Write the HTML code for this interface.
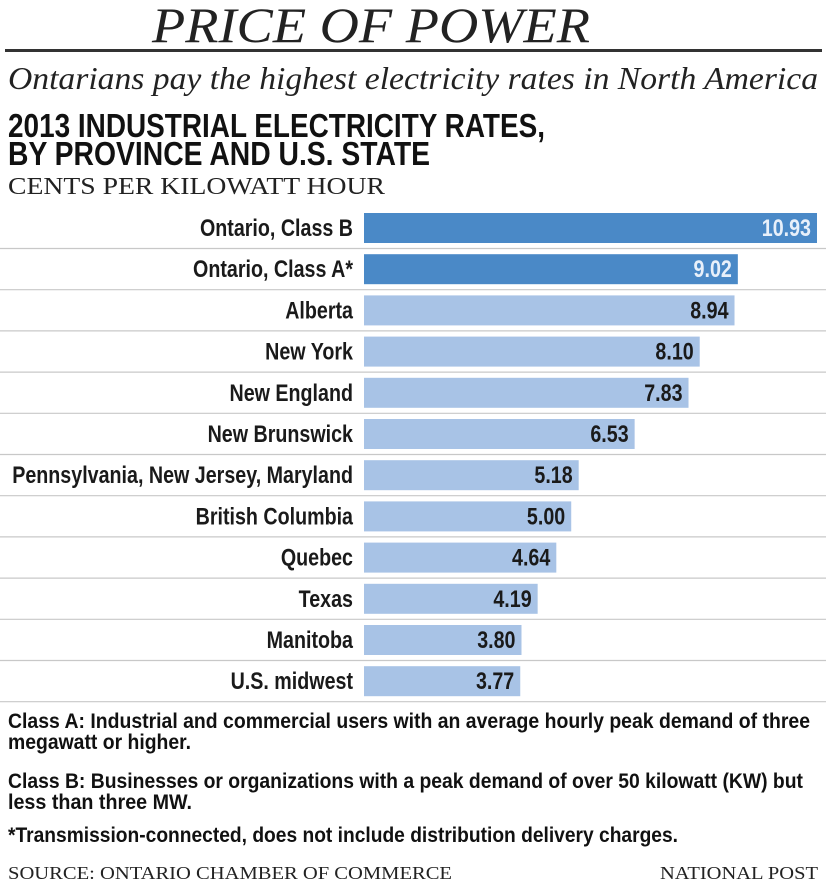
<!DOCTYPE html>
<html><head><meta charset="utf-8"><style>
html,body{margin:0;padding:0;background:#fff;}
svg{display:block;}
.lbl{font-family:"Liberation Sans Narrow","Liberation Sans",sans-serif;font-weight:bold;font-size:24px;fill:#1a1a1a;}
.val{font-family:"Liberation Sans Narrow","Liberation Sans",sans-serif;font-weight:bold;font-size:24px;}
.note{font-family:"Liberation Sans Narrow","Liberation Sans",sans-serif;font-weight:bold;font-size:21px;fill:#111;}
.serif{font-family:"Liberation Serif",serif;fill:#222;}
</style></head><body>
<svg id="chart" width="826" height="888" viewBox="0 0 826 888">
<text class="serif" x="152" y="42" font-size="50" font-style="italic" textLength="438" lengthAdjust="spacingAndGlyphs" fill="#111">PRICE OF POWER</text>
<rect x="5" y="49" width="817" height="3" fill="#333"/>
<text class="serif" x="8" y="89" font-size="32" font-style="italic" textLength="810" lengthAdjust="spacingAndGlyphs">Ontarians pay the highest electricity rates in North America</text>
<text x="8" y="137" font-family="'Liberation Sans Narrow','Liberation Sans',sans-serif" font-weight="bold" font-size="33" textLength="537" lengthAdjust="spacingAndGlyphs" fill="#111">2013 INDUSTRIAL ELECTRICITY RATES,</text>
<text x="8" y="165" font-family="'Liberation Sans Narrow','Liberation Sans',sans-serif" font-weight="bold" font-size="33" textLength="422" lengthAdjust="spacingAndGlyphs" fill="#111">BY PROVINCE AND U.S. STATE</text>
<text class="serif" x="8" y="194" font-size="24" textLength="377" lengthAdjust="spacingAndGlyphs">CENTS PER KILOWATT HOUR</text>
<g id="bars"></g>
<text class="note" x="8" y="728" textLength="802" lengthAdjust="spacingAndGlyphs">Class A: Industrial and commercial users with an average hourly peak demand of three</text>
<text class="note" x="8" y="749" textLength="183" lengthAdjust="spacingAndGlyphs">megawatt or higher.</text>
<text class="note" x="8" y="788" textLength="795" lengthAdjust="spacingAndGlyphs">Class B: Businesses or organizations with a peak demand of over 50 kilowatt (KW) but</text>
<text class="note" x="8" y="809" textLength="184" lengthAdjust="spacingAndGlyphs">less than three MW.</text>
<text class="note" x="8" y="842" textLength="670" lengthAdjust="spacingAndGlyphs">*Transmission-connected, does not include distribution delivery charges.</text>
<text class="serif" x="8" y="879" font-size="18" textLength="444" lengthAdjust="spacingAndGlyphs">SOURCE: ONTARIO CHAMBER OF COMMERCE</text>
<text class="serif" x="660" y="879" font-size="18" textLength="158" lengthAdjust="spacingAndGlyphs">NATIONAL POST</text>
</svg>
<script>
const categories = ["Ontario, Class B","Ontario, Class A*","Alberta","New York","New England","New Brunswick","Pennsylvania, New Jersey, Maryland","British Columbia","Quebec","Texas","Manitoba","U.S. midwest"];
const values = [10.93, 9.02, 8.94, 8.10, 7.83, 6.53, 5.18, 5.00, 4.64, 4.19, 3.80, 3.77];
const highlighted = [true, true, false, false, false, false, false, false, false, false, false, false];

const NS = "http://www.w3.org/2000/svg";
const g = document.getElementById("bars");
const x0 = 364, pxPerUnit = 453 / 10.93;
const xScale = v => x0 + v * pxPerUnit;
const yCenter = i => 228 + i * 41.2;
function mk(tag, attrs) { const e = document.createElementNS(NS, tag); for (const k in attrs) e.setAttribute(k, attrs[k]); g.appendChild(e); return e; }
categories.forEach((c, i) => {
  const cy = yCenter(i);
  const sep = mk("line", {x1: 0, x2: 826, y1: cy + 20.5, y2: cy + 20.5, stroke: "#c8c8c8", "stroke-width": 1.2});
  
  
  const lbl = mk("text", {x: 0, y: 0, "text-anchor": "end", class: "lbl", transform: "translate(353," + (cy + 8) + ") scale(0.82,1)"});
  lbl.textContent = c;
  
  
  const bar = mk("rect", {x: x0, y: cy - 15, width: xScale(values[i]) - x0, height: 30, fill: highlighted[i] ? "#4a89c7" : "#a8c3e6"});
  
  
  const v = mk("text", {x: 0, y: 0, "text-anchor": "end", class: "val", fill: highlighted[i] ? "#e8f0fa" : "#1a1a1a", transform: "translate(" + (xScale(values[i]) - 6) + "," + (cy + 8) + ") scale(0.82,1)"});
  v.textContent = values[i].toFixed(2);
  
  
});
</script>
</body></html>
